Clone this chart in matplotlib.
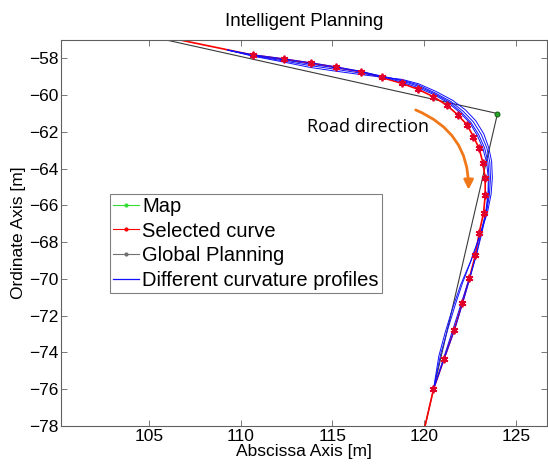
import matplotlib
matplotlib.use("Agg")
import matplotlib.pyplot as plt
from matplotlib.lines import Line2D
from matplotlib.patches import FancyArrowPatch

# Map waypoint
map_x = [124.0]
map_y = [-61.0]

# Global planning polyline
global_x = [104.0, 124.0, 120.05]
global_y = [-56.57, -61.0, -78.0]

# Selected curve (first and last points carry no marker)
sel_x = [105.0, 110.67, 112.34, 113.83, 115.21, 116.54, 117.69, 118.78, 119.69,
         120.51, 121.24, 121.82, 122.33, 122.69, 123.0, 123.2, 123.33, 123.33,
         123.24, 123.0, 122.8, 122.47, 122.07, 121.64, 121.09, 120.51, 120.05]
sel_y = [-56.65, -57.82, -58.04, -58.26, -58.49, -58.73, -59.04, -59.36, -59.69,
         -60.09, -60.55, -61.06, -61.6, -62.26, -62.9, -63.67, -64.53, -65.44,
         -66.4, -67.5, -68.68, -69.95, -71.33, -72.77, -74.33, -76.0, -78.0]

# Different curvature profiles
prof1_x = [109.3, 110.67, 112.34, 113.83, 115.21, 116.54, 117.69, 118.78, 119.69,
           120.55, 121.33, 121.95, 122.5, 122.9, 123.2, 123.4, 123.5, 123.48,
           123.35, 123.1, 122.85, 122.5, 122.1, 121.66, 121.1, 120.51]
prof1_y = [-57.55, -57.8, -58.02, -58.24, -58.46, -58.7, -58.99, -59.29, -59.6,
           -59.98, -60.43, -60.95, -61.52, -62.2, -62.88, -63.65, -64.5, -65.4,
           -66.4, -67.5, -68.68, -69.95, -71.33, -72.77, -74.33, -76.0]
prof2_x = [109.3, 110.67, 112.34, 113.83, 115.21, 116.54, 117.69, 118.78, 119.69,
           120.56, 121.38, 122.0, 122.55, 122.98, 123.3, 123.48, 123.54, 123.5,
           123.38, 123.15, 122.85, 122.45, 122.0, 121.55, 121.05, 120.51]
prof2_y = [-57.55, -57.84, -58.08, -58.32, -58.52, -58.72, -58.96, -59.22, -59.52,
           -59.92, -60.38, -60.9, -61.48, -62.16, -62.88, -63.65, -64.5, -65.4,
           -66.4, -67.5, -68.7, -70.0, -71.4, -72.8, -74.35, -76.0]
prof3_x = [109.3, 110.67, 112.34, 113.83, 115.21, 116.54, 117.69, 118.78, 119.69,
           120.6, 121.45, 122.12, 122.68, 123.12, 123.42, 123.58, 123.62, 123.56,
           123.4, 123.05, 122.6, 122.1, 121.7, 121.3, 120.9, 120.51]
prof3_y = [-57.55, -57.86, -58.14, -58.4, -58.6, -58.8, -58.98, -59.18, -59.45,
           -59.88, -60.34, -60.87, -61.45, -62.15, -62.87, -63.65, -64.5, -65.4,
           -66.4, -67.6, -68.9, -70.2, -71.4, -72.7, -74.1, -76.0]
prof4_x = [109.3, 110.67, 112.34, 113.83, 115.21, 116.54, 117.69, 118.78, 119.69,
           120.65, 121.55, 122.25, 122.82, 123.25, 123.52, 123.68, 123.72, 123.65,
           123.45, 123.05, 122.55, 122.0, 121.55, 121.15, 120.8, 120.51]
prof4_y = [-57.55, -57.88, -58.2, -58.5, -58.7, -58.88, -59.02, -59.14, -59.38,
           -59.8, -60.28, -60.8, -61.4, -62.1, -62.85, -63.6, -64.5, -65.4,
           -66.4, -67.6, -69.0, -70.3, -71.6, -72.9, -74.2, -76.0]
profiles = [(prof1_x, prof1_y), (prof2_x, prof2_y),
            (prof3_x, prof3_y), (prof4_x, prof4_y)]

legend_labels = ['Map', 'Selected curve', 'Global Planning',
                 'Different curvature profiles']

plt.rcParams['font.family'] = ['Liberation Sans', 'DejaVu Sans']

fig = plt.figure(figsize=(5.48, 4.70), dpi=100)
ax = fig.add_axes([0.1113, 0.0936, 0.8869, 0.8213])

red = '#ff0000'
blue = '#1010ff'
gray = '#3a3a3a'
green = '#22aa22'

ax.plot(global_x, global_y, c=gray, lw=0.8)
ax.plot(sel_x, sel_y, c=red, lw=1.2)
for px, py in profiles:
    ax.plot(px, py, c=blue, lw=0.7)
ax.plot(sel_x[1:-1], sel_y[1:-1], ls='none', marker=(6, 2, 0), ms=5.5,
        mec='#e0002a', mew=1.3)
ax.plot(map_x, map_y, ls='none', marker='o', ms=3.5, mfc=green, mec='#1b5e1b',
        mew=0.8)

# road direction arrow
arrow = FancyArrowPatch((119.4, -60.75), (122.42, -65.3),
                        connectionstyle='arc3,rad=-0.35', arrowstyle='-|>',
                        mutation_scale=14, color='#f07818', lw=2)
ax.add_patch(arrow)
ax.text(113.6, -61.75, 'Road direction', fontsize=13, family='Open Sans',
        va='center', ha='left')

ax.set_xlim(100.2, 126.7)
ax.set_ylim(-78, -57)
ax.set_xticks([105, 110, 115, 120, 125])
ax.set_yticks(range(-78, -57, 2))
ax.tick_params(direction='in', top=True, right=True, length=4, width=0.6,
               color='#606060', labelsize=12.5, pad=2)
for sp in ax.spines.values():
    sp.set_color('#606060')
    sp.set_linewidth(0.8)

ax.set_xlabel('Abscissa Axis [m]', fontsize=12.5, labelpad=0)
ax.set_ylabel('Ordinate Axis [m]', fontsize=12.5, labelpad=2)
ax.set_title('Intelligent Planning', fontsize=13.5, pad=10)

handles = [Line2D([], [], c='#33dd33', lw=0.8, marker='.', ms=4),
           Line2D([], [], c=red, lw=0.8, marker='.', ms=4),
           Line2D([], [], c='#707070', lw=0.8, marker='.', ms=4),
           Line2D([], [], c=blue, lw=0.9)]
leg = ax.legend(handles, legend_labels, loc='lower left',
                bbox_to_anchor=(0.101, 0.345), fontsize=14.5, frameon=True,
                fancybox=False, edgecolor='#606060', borderpad=0.15,
                labelspacing=0.28, handlelength=1.3, handletextpad=0.15,
                borderaxespad=0)
leg.get_frame().set_linewidth(0.8)

fig.savefig('out.png', dpi=100)
